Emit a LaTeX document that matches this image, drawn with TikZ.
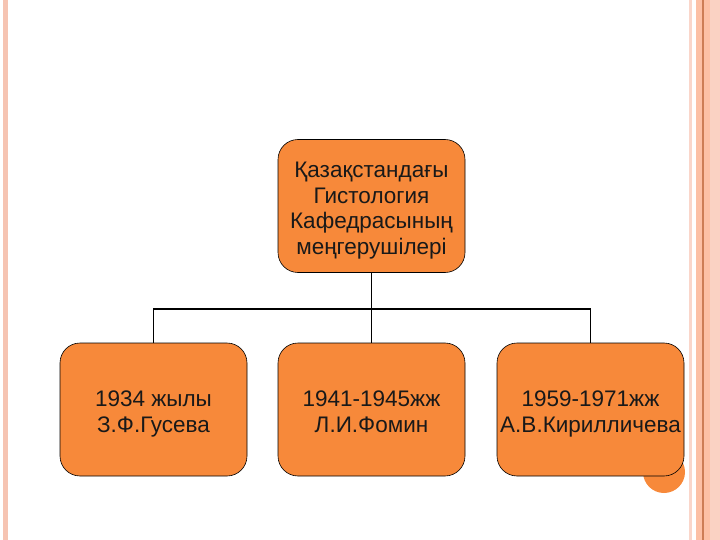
\documentclass[tikz,border=0pt]{standalone}
\usepackage{fontspec}
\setmainfont{Liberation Sans}
\usepackage{xcolor}
\definecolor{boxorange}{RGB}{247,137,58}
\definecolor{stripepink}{RGB}{246,196,178}
\definecolor{stripelight}{RGB}{250,214,202}
\definecolor{stripesalmon}{RGB}{252,192,165}
\definecolor{stripeline}{RGB}{205,125,85}
\newcommand{\topgap}{\rule{0pt}{28pt}}

\begin{document}
\begin{tikzpicture}[x=1pt, y=-1pt, font=\fontsize{22.5}{25.5}\selectfont,
    chief/.style={draw, fill=boxorange, rounded corners=20pt, minimum width=187pt,
      minimum height=133pt, align=center, text=black!90, line width=0.6pt,
      inner xsep=0pt},
    link/.style={line width=1.8pt}]
\useasboundingbox (0,0) rectangle (720,540);
% page border stripes
\fill[stripepink] (3,0) rectangle (8,540);
\fill[stripelight] (689,0) rectangle (692,540);
\fill[stripesalmon] (696,0) rectangle (710,540);
\fill[stripeline] (702,0) rectangle (703.5,540);
\fill[stripelight!80!stripesalmon] (710,0) rectangle (720,540);
% small circle behind the last box
\fill[boxorange] (664,472) circle (21pt);
% chart
\node[chief] (head) at (371.5,206) {\topgap Қазақстандағы\\Гистология\\Кафедрасының\\меңгерушілері\strut};
\node[chief] (g1) at (153.5,409.5) {\topgap 1934 жылы\\З.Ф.Гусева\strut};
\node[chief] (g2) at (371.5,409.5) {\topgap 1941-1945жж\\Л.И.Фомин\strut};
\node[chief] (g3) at (590.5,409.5) {\topgap 1959-1971жж\\А.В.Кирилличева\strut};
\coordinate (bus) at (371.5,309);
\draw[link] (head.south) -- (g2.north);
\draw[link] (g1.north) |- (bus) -| (g3.north);
\end{tikzpicture}
\end{document}
